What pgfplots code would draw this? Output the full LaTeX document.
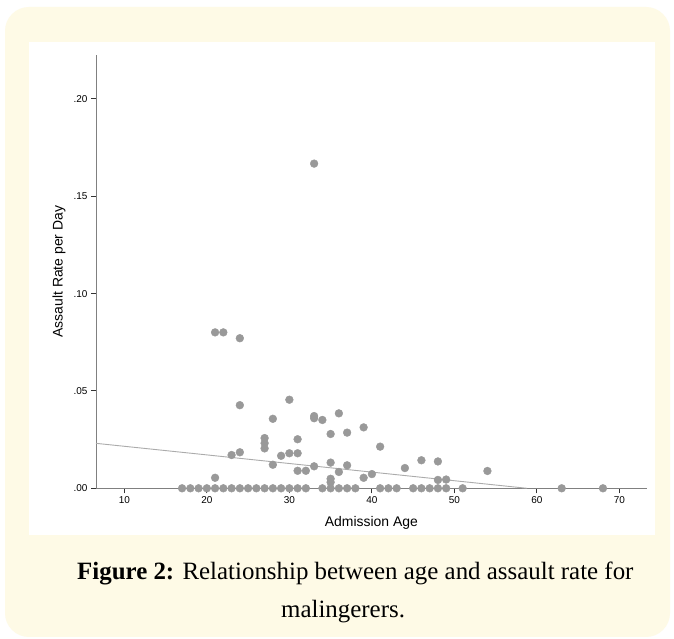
\documentclass[border=0pt]{standalone}
\usepackage{pgfplots}
\pgfplotsset{compat=1.18}
\usepackage{fontspec}
\setmainfont{Liberation Serif}
\setsansfont{Liberation Sans}
\definecolor{panel}{HTML}{FEFAE6}
\definecolor{dotgray}{HTML}{999999}
\definecolor{fitgray}{HTML}{ABABAB}

\begin{document}
\begin{tikzpicture}
\useasboundingbox (0bp,0bp) rectangle (674bp,639bp);
\fill[white] (0bp,0bp) rectangle (674bp,639bp);
\fill[panel, rounded corners=24bp] (5bp,2bp) rectangle (670bp,632bp);
\fill[white] (29bp,104bp) rectangle (655bp,597bp);
\begin{axis}[
	at={(96bp,150.7bp)}, anchor=south west,
	scale only axis, width=550.7bp, height=433.3bp,
	xmin=6.57, xmax=73.3, ymin=0, ymax=0.2226,
	axis x line=bottom, axis y line=left,
	axis line style={-, color=black!50, line width=0.8bp},
	xtick={10,20,...,70},
	ytick={0,0.05,0.1,0.15,0.2},
	yticklabels={.00,.05,.10,.15,.20},
	tick align=outside,
	major tick length=5bp,
	tick style={color=black!80, line width=1bp},
	/pgf/number format/assume math mode=true,
	ticklabel style={font=\sffamily\fontsize{10}{12}\selectfont},
	xlabel={Admission Age}, ylabel={Assault Rate per Day},
	label style={font=\sffamily\fontsize{14}{16}\selectfont},
	xlabel style={at={(axis description cs:0.5,-0.0808)}, anchor=center},
	ylabel style={at={(axis description cs:-0.0672,0.5)}, anchor=center},
	clip=false,
	]
	% fit line
	\addplot[fitgray, line width=0.9bp] coordinates {(6.57,0.0231) (58.8,0)};
	% observations
	\addplot[only marks, mark=*, mark size=3.9bp, color=dotgray, mark options={fill=dotgray, draw=dotgray}] coordinates {
		(17,0) (18,0) (19,0) (20,0) (21,0) (22,0) (23,0) (24,0)
		(25,0) (26,0) (27,0) (28,0) (29,0) (30,0) (31,0) (32,0)
		(34,0) (35,0) (36,0) (37,0) (38,0)
		(41,0) (42,0) (43,0) (45,0) (46,0) (47,0) (48,0) (49,0)
		(51,0) (63,0) (68,0)
		(21,0.0801) (22,0.0801) (24,0.0771) (33,0.1668)
		(24,0.0427) (30,0.0455) (28,0.0357)
		(27,0.0258) (27,0.0232) (27,0.0205)
		(23,0.0171) (24,0.0185) (29,0.0167) (30,0.0180) (31,0.0180)
		(28,0.0121) (21,0.0054)
		(31,0.0252) (33,0.0371) (33,0.0360) (34,0.0351) (36,0.0385)
		(35,0.0279) (37,0.0286) (39,0.0313) (41,0.0214)
		(31,0.0090) (32,0.0090) (33,0.0113) (35,0.0132) (36,0.0084)
		(37,0.0118) (39,0.0054) (40,0.0073) (44,0.0104)
		(35,0.0049) (35,0.0031)
		(46,0.0144) (48,0.0138) (54,0.0089) (48,0.0043) (49,0.0045)
	};
\end{axis}
\node[font=\fontsize{25}{30}\selectfont, anchor=base west, inner sep=0pt] at (77bp,59bp) {\textbf{Figure 2:} Relationship between age and assault rate for};
\node[font=\fontsize{25}{30}\selectfont, anchor=base west, inner sep=0pt] at (281bp,22bp) {malingerers.};
\end{tikzpicture}
\end{document}
